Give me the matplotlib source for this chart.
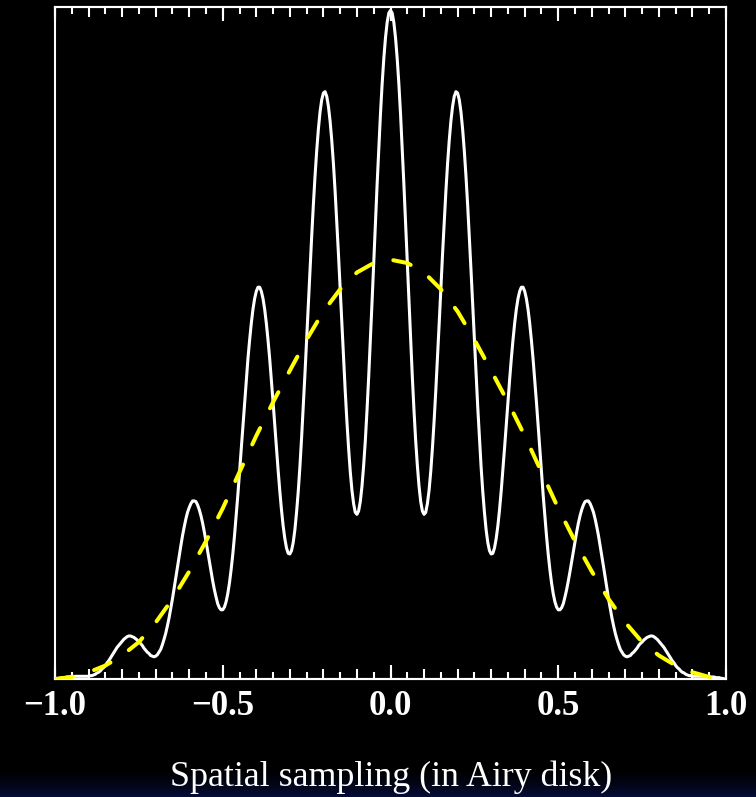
import numpy as np
import matplotlib
matplotlib.use("Agg")
from matplotlib import pyplot as plt
from matplotlib.ticker import MultipleLocator

# fringe intensity for x = 0.000 ... 1.000 (step 0.005);
# the profile is symmetric, the left half is the mirror image
fringe_right = [
    0.995, 0.991, 0.977, 0.954, 0.923, 0.885, 0.840, 0.789, 0.735, 0.678,
    0.619, 0.561, 0.504, 0.450, 0.400, 0.355, 0.318, 0.287, 0.264, 0.250,
    0.245, 0.248, 0.261, 0.281, 0.309, 0.344, 0.384, 0.429, 0.478, 0.528,
    0.580, 0.631, 0.679, 0.725, 0.766, 0.801, 0.830, 0.852, 0.867, 0.874,
    0.872, 0.862, 0.844, 0.818, 0.786, 0.748, 0.705, 0.658, 0.608, 0.557,
    0.505, 0.454, 0.405, 0.359, 0.316, 0.279, 0.248, 0.222, 0.203, 0.191,
    0.186, 0.187, 0.195, 0.209, 0.228, 0.252, 0.280, 0.311, 0.344, 0.378,
    0.412, 0.445, 0.476, 0.504, 0.529, 0.550, 0.566, 0.577, 0.583, 0.583,
    0.577, 0.566, 0.550, 0.529, 0.504, 0.476, 0.445, 0.412, 0.377, 0.343,
    0.308, 0.274, 0.243, 0.213, 0.186, 0.163, 0.143, 0.127, 0.115, 0.107,
    0.103, 0.103, 0.106, 0.112, 0.122, 0.133, 0.146, 0.160, 0.175, 0.190,
    0.205, 0.219, 0.232, 0.243, 0.252, 0.259, 0.264, 0.265, 0.265, 0.261,
    0.255, 0.248, 0.238, 0.226, 0.213, 0.198, 0.183, 0.167, 0.151, 0.135,
    0.119, 0.105, 0.091, 0.079, 0.068, 0.059, 0.051, 0.044, 0.040, 0.036,
    0.034, 0.033, 0.034, 0.035, 0.038, 0.040, 0.043, 0.046, 0.050, 0.053,
    0.055, 0.058, 0.060, 0.062, 0.063, 0.064, 0.064, 0.063, 0.061, 0.059,
    0.056, 0.053, 0.050, 0.047, 0.043, 0.039, 0.035, 0.031, 0.027, 0.024,
    0.020, 0.017, 0.015, 0.012, 0.010, 0.009, 0.007, 0.006, 0.005, 0.005,
    0.004, 0.004, 0.004, 0.004, 0.004, 0.004, 0.004, 0.004, 0.004, 0.003,
    0.003, 0.003, 0.003, 0.003, 0.002, 0.002, 0.002, 0.001, 0.001, 0.000,
    0.000,
]
fringe_x = np.round(np.arange(-200, 201) / 200, 3)
fringe_y = fringe_right[:0:-1] + fringe_right

# yellow dashed envelope, x = -1.00 ... 1.00 in steps of 0.05
env_x = np.round(np.arange(-20, 21) / 20, 2)
env_y = [
    0.000, 0.003, 0.010, 0.020, 0.035, 0.055, 0.084, 0.119, 0.160, 0.205,
    0.254, 0.308, 0.362, 0.412, 0.459, 0.505, 0.547, 0.580, 0.605, 0.619,
    0.624,
    0.619, 0.605, 0.580, 0.547, 0.505, 0.459, 0.412, 0.362, 0.308, 0.254,
    0.205, 0.160, 0.119, 0.084, 0.055, 0.035, 0.020, 0.010, 0.003, 0.000,
]

label_ticks = [-1.0, -0.5, 0.0, 0.5, 1.0]
tick_text = ["\u22121.0", "\u22120.5", "0.0", "0.5", "1.0"]
xlabel = "Spatial sampling (in Airy disk)"

fig = plt.figure(figsize=(7.56, 7.97), dpi=100, facecolor="black")

# faint navy glow at the very bottom of the slide (black on top -> navy)
band = fig.add_axes([0, 0, 1, 30 / 797])
band.imshow(np.linspace(0, 1, 60).reshape(-1, 1) ** 1.5, aspect="auto",
            cmap=matplotlib.colors.LinearSegmentedColormap.from_list(
                "bg", ["#000000", "#060d38"]),
            extent=[0, 1, 0, 1])
band.axis("off")

ax = fig.add_axes([55 / 756, 118 / 797, 671 / 756, 672 / 797])
ax.set_facecolor("black")

ax.plot(fringe_x, fringe_y, color="white", lw=2.2, zorder=2,
        solid_joinstyle="round")
ax.plot(env_x, env_y, color="#ffff00", lw=2.9, dashes=(4.5, 5.5),
        dash_capstyle="round", zorder=3)

ax.set_xlim(-1, 1)
ax.set_ylim(0, 1)
ax.set_yticks([])

for s in ax.spines.values():
    s.set_color("white")
    s.set_linewidth(1.5)

ax.xaxis.set_major_locator(MultipleLocator(0.1))
ax.xaxis.set_minor_locator(MultipleLocator(0.05))
ax.tick_params(axis="x", which="both", direction="in", top=True,
               bottom=True, labelbottom=False, colors="white", width=1.5)
ax.tick_params(axis="x", which="major", length=7.5)
ax.tick_params(axis="x", which="minor", length=5)

for side in ["bottom", "top"]:
    sec = ax.secondary_xaxis(side)
    sec.set_xticks(label_ticks)
    sec.tick_params(direction="in", length=10, width=1.5, colors="white")
    sec.spines[side].set_color("white")
    sec.spines[side].set_linewidth(1.5)
    if side == "bottom":
        sec.set_xticklabels(tick_text, fontfamily="Liberation Serif",
                            fontweight="bold", fontsize=25)
        sec.tick_params(pad=8)
    else:
        sec.set_xticklabels([])

fig.text(391 / 756, 11 / 797, xlabel, color="white", ha="center",
         va="baseline", fontsize=25.8, fontfamily="Liberation Serif")

fig.savefig("out.png", dpi=100, facecolor="black")
